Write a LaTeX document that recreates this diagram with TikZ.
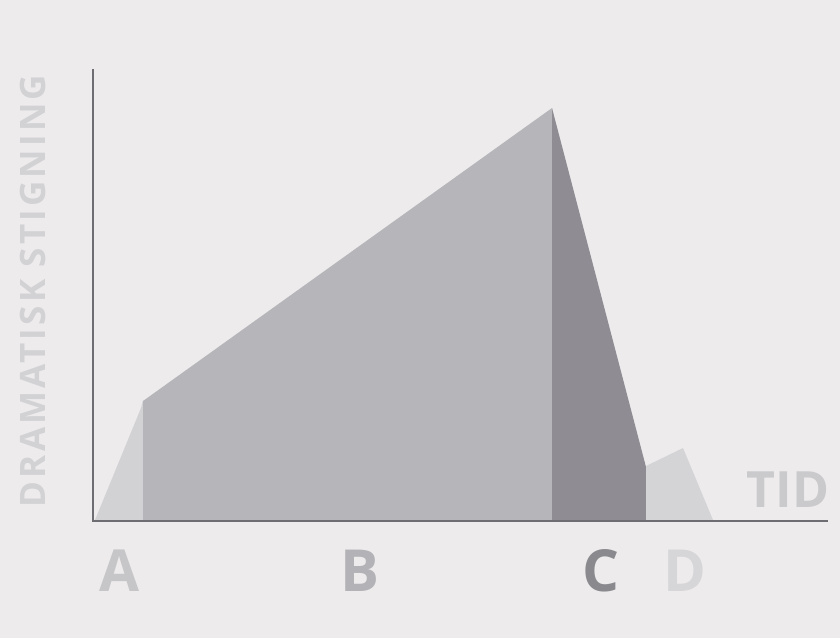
\documentclass[tikz,border=0pt]{standalone}
\usepackage{fontspec}
\setmainfont{Open Sans}
\definecolor{paper}{HTML}{EDEBEC}
\definecolor{shadeA}{HTML}{D2D1D4}
\definecolor{shadeB}{HTML}{B6B5B9}
\definecolor{shadeC}{HTML}{8F8D93}
\definecolor{shadeD}{HTML}{D4D3D6}
\definecolor{axis}{HTML}{6E6D72}
\definecolor{lblA}{HTML}{C6C5C8}
\definecolor{lblB}{HTML}{B3B2B6}
\definecolor{lblC}{HTML}{8A898E}
\definecolor{lblD}{HTML}{D6D5D8}
\definecolor{lblT}{HTML}{CACACD}
\begin{document}
\begin{tikzpicture}[x=1pt,y=-1pt,
  lbl/.style={font=\bfseries\fontsize{58}{58}\selectfont, inner sep=0pt, anchor=center},
  axisline/.style={draw=axis, line width=1.6pt}]
\fill[paper] (0,0) rectangle (840,638);
\useasboundingbox (0,0) rectangle (840,638);
% A
\fill[shadeA] (95,520) -- (141,408) -- (143,400) -- (143,520) -- cycle;
% B
\fill[shadeB] (143,520) -- (143,401) -- (552,108) -- (552,520) -- cycle;
% C
\fill[shadeC] (552,520) -- (552,108) -- (646,467) -- (646,520) -- cycle;
% D
\fill[shadeD] (646,520) -- (646,466) -- (683,448) -- (713,520) -- cycle;
% axes
\coordinate (top) at (93,69);
\coordinate (origin) at (93,521);
\coordinate (right) at (828,521);
\draw[axisline] (top) -- (origin) -- (right);
% labels
\node[lbl, text=lblA] (a) at (120,571) {A};
\node[lbl, text=lblB] (b) at (360,571) {B};
\node[lbl, text=lblC] (c) at (601,571) {C};
\node[lbl, text=lblD] (d) at (685,571) {D};
\node[font=\bfseries\fontsize{50}{50}\selectfont, inner sep=0pt, text=lblT] (tid) at (788,490) {TID};
\node[font=\bfseries\fontsize{35}{35}\selectfont\addfontfeature{LetterSpace=9}, inner sep=0pt, text=shadeA, rotate=90] (ylbl) at (33,291) {DRAMATISK STIGNING};
\end{tikzpicture}
\end{document}
